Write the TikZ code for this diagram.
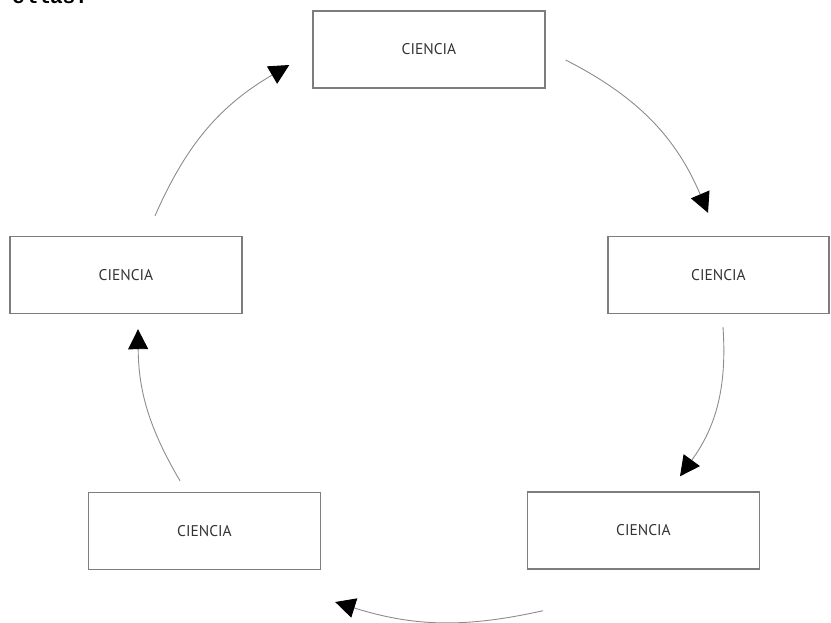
\documentclass[tikz,border=0pt]{standalone}
\usepackage{fontspec}
\usetikzlibrary{arrows.meta,calc}
\newfontfamily\boxfont{PT Sans}
\newfontfamily\headfont{Liberation Mono}
\definecolor{boxgray}{RGB}{125,125,125}
\definecolor{linegray}{RGB}{140,140,140}
\begin{document}
\begin{tikzpicture}[x=1pt,y=-1pt,
  box/.style={draw=boxgray, line width=1.4pt, minimum width=232pt,
    minimum height=77pt, inner sep=0pt, text=black!80,
    font=\boxfont\fontsize{15.5}{18}\selectfont},
  conn/.style={draw=linegray, line width=0.9pt,
    -{Triangle[length=20pt,width=20pt,color=black]}, bend left=#1}]
\useasboundingbox (0,0) rectangle (831,622);

% heading fragment at the top edge
\node[anchor=base west, inner sep=0pt,
  font=\headfont\bfseries\fontsize{21}{21}\selectfont] (head) at (12,3) {ellas.};

% the five boxes of the cycle
\node[box] (top)   at (429,49.5)   {CIENCIA};
\node[box, minimum width=221pt] (right) at (718.5,275) {CIENCIA};
\node[box] (left)  at (126,275)    {CIENCIA};
\node[box] (bl)    at (204.5,531)  {CIENCIA};
\node[box] (br)    at (643.5,530.5){CIENCIA};

% clockwise connectors
\draw[conn=20] ($(top.east)+(20,10.5)$)   to ($(right.north)+(-10.5,-23)$);
\draw[conn=20] ($(right.south)+(4.5,13)$) to ($(br.north)+(36.5,-15)$);
\draw[conn=15] ($(br.south)+(-100.5,41)$) to ($(bl.east)+(14,71)$);
\draw[conn=15] ($(bl.north)+(-24.5,-11)$) to ($(left.south)+(12,15)$);
\draw[conn=18] ($(left.north)+(29,-20)$)  to ($(top.west)+(-23,15.5)$);
\end{tikzpicture}
\end{document}
